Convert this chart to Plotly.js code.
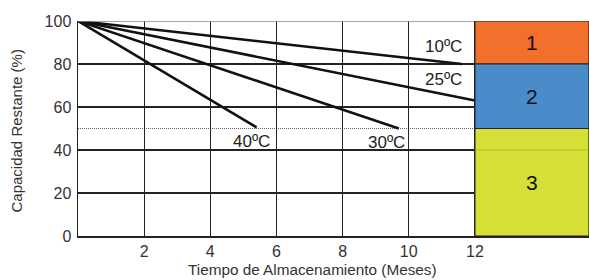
<!DOCTYPE html>
<html>
<head>
<meta charset="utf-8">
<script src="https://cdn.plot.ly/plotly-3.0.1.min.js"></script>
<style>html,body{margin:0;padding:0;background:#fff;}#chart{width:589px;height:280px;}</style>
</head>
<body>
<div id="chart"></div>
<script>
// Data
const seriesNames = ['10ºC', '25ºC', '30ºC', '40ºC'];
const months10 = [0, 11.6], cap10 = [100, 80];
const months25 = [0, 12], cap25 = [100, 63];
const months30 = [0, 9.7], cap30 = [100, 50];
const months40 = [0, 5.4], cap40 = [100, 50.5];
const xTicks = [2, 4, 6, 8, 10, 12];
const yTicks = [0, 20, 40, 60, 80, 100];
const threshold = 50;
const zoneTop = [100, 80, 50];
const zoneBottom = [80, 50, 0];
const zoneLabels = ['1', '2', '3'];
const zoneColors = ['#f2702b', '#4a8bca', '#d5df37'];
const zoneStart = 12;
const xMax = 15.45;
const xTitle = 'Tiempo de Almacenamiento (Meses)';
const yTitle = 'Capacidad Restante (%)';

const FONT = '"Liberation Sans", Arial, sans-serif';
const lineStyle = {color: '#111', width: 2.6};
const traces = [
  {x: months10, y: cap10, name: seriesNames[0]},
  {x: months25, y: cap25, name: seriesNames[1]},
  {x: months30, y: cap30, name: seriesNames[2]},
  {x: months40, y: cap40, name: seriesNames[3]}
].map(t => Object.assign(t, {type: 'scatter', mode: 'lines', line: lineStyle, hoverinfo: 'skip', cliponaxis: false}));

const shapes = [];
shapes.push({type: 'line', xref: 'x', yref: 'y', x0: 0, x1: zoneStart, y0: threshold, y1: threshold,
  line: {color: '#666', width: 1, dash: '1px,1px'}, layer: 'below'});
shapes.push({type: 'line', xref: 'x', yref: 'y', x0: 0, x1: xMax, y0: 100, y1: 100,
  line: {color: '#888', width: 1.5}, layer: 'above'});
zoneLabels.forEach((lab, i) => {
  shapes.push({type: 'rect', xref: 'x', yref: 'y', x0: zoneStart, x1: xMax, y0: zoneBottom[i], y1: zoneTop[i],
    fillcolor: zoneColors[i], line: {color: '#222', width: 1.2}, layer: 'above'});
});
shapes.push({type: 'line', xref: 'x', yref: 'y', x0: zoneStart, x1: xMax, y0: 40, y1: 40,
  line: {color: 'rgba(120,120,40,0.35)', width: 1}, layer: 'above'});

const annotations = [];
zoneLabels.forEach((lab, i) => {
  annotations.push({x: (zoneStart + xMax) / 2, y: (zoneTop[i] + zoneBottom[i]) / 2, text: lab,
    showarrow: false, font: {family: FONT, size: 21, color: '#111'}});
});
const lblFont = {family: FONT, size: 17, color: '#222'};
annotations.push({x: months10[1], y: cap10[1], text: seriesNames[0], showarrow: false, xanchor: 'right', yanchor: 'bottom', yshift: 6, xshift: 2, font: lblFont});
annotations.push({x: months25[1] - 0.35, y: cap25[1] + 4.5, text: seriesNames[1], showarrow: false, xanchor: 'right', yanchor: 'bottom', xshift: 1, font: lblFont});
annotations.push({x: months30[1] - 0.4, y: cap30[1], text: seriesNames[2], showarrow: false, xanchor: 'center', yanchor: 'top', yshift: -2, xshift: 1, font: lblFont});
annotations.push({x: months40[1] - 0.2, y: cap40[1], text: seriesNames[3], showarrow: false, xanchor: 'center', yanchor: 'top', yshift: -3, xshift: 2, font: lblFont});
annotations.push({xref: 'paper', yref: 'paper', x: 0.211, y: -0.155, xanchor: 'left', yanchor: 'middle',
  text: xTitle, showarrow: false, font: {family: FONT, size: 15.3, color: '#333'}});
annotations.push({xref: 'x', yref: 'paper', x: 0, xshift: -61, y: 0.486, xanchor: 'center', yanchor: 'middle', textangle: -90,
  text: yTitle, showarrow: false, font: {family: FONT, size: 15, color: '#333'}});

const layout = {
  width: 589, height: 280,
  margin: {l: 78, r: 0, t: 21, b: 44, pad: 0},
  paper_bgcolor: '#fff', plot_bgcolor: '#fff',
  showlegend: false,
  font: {family: FONT, color: '#333'},
  xaxis: {
    range: [0, xMax], tickvals: xTicks, ticktext: xTicks.map(String),
    showgrid: true, gridcolor: '#222', gridwidth: 1.3,
    zeroline: false, showline: true, linecolor: '#222', linewidth: 1.5,
    ticks: '', tickfont: {family: FONT, size: 16, color: '#333'},
    fixedrange: true
  },
  yaxis: {
    range: [0, 100], tickvals: yTicks, ticktext: yTicks.map(String),
    showgrid: true, gridcolor: '#222', gridwidth: 1.3,
    zeroline: false, showline: true, linecolor: '#222', linewidth: 1.5,
    ticks: '', ticklabelstandoff: 2, tickfont: {family: FONT, size: 16, color: '#333'},
    fixedrange: true
  },
  shapes: shapes,
  annotations: annotations
};

Plotly.newPlot('chart', traces, layout, {displayModeBar: false, staticPlot: true});
</script>
</body>
</html>
